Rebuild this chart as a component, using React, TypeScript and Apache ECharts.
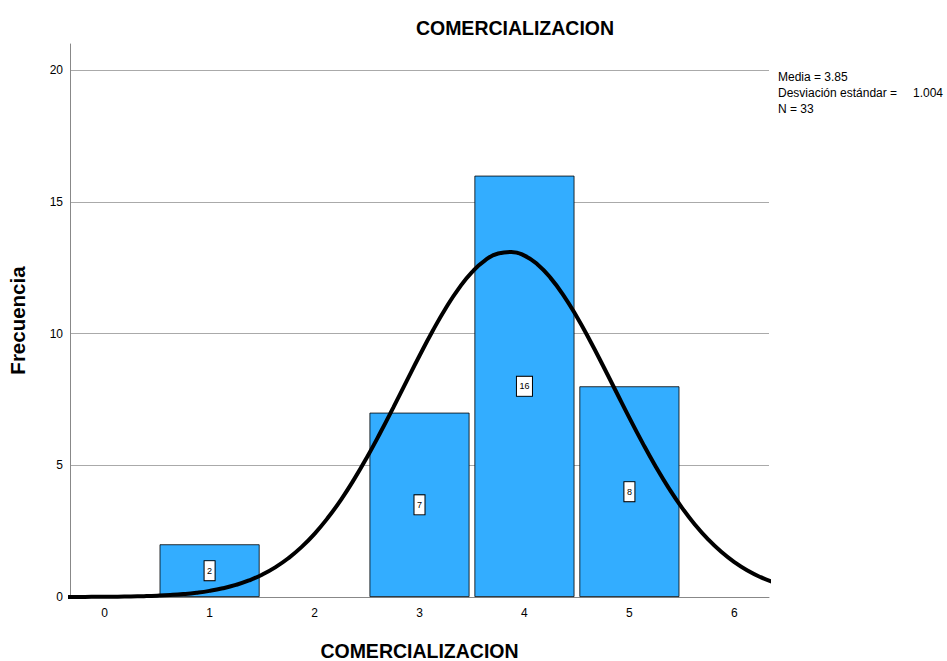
import React, { useEffect, useRef } from "react";
import * as echarts from "echarts";

const categories = [1, 3, 4, 5];
const frequencies = [2, 7, 16, 8];
const xTickLabels = [0, 1, 2, 3, 4, 5, 6];
const yTickLabels = [0, 5, 10, 15, 20];
const curveX = [
  -0.375, -0.25, -0.125, 0, 0.125, 0.25, 0.375, 0.5, 0.625, 0.75, 0.875, 1, 1.125, 1.25, 1.375, 1.5,
  1.625, 1.75, 1.875, 2, 2.125, 2.25, 2.375, 2.5, 2.625, 2.75, 2.875, 3, 3.125, 3.25, 3.375, 3.5,
  3.625, 3.75, 3.875, 4, 4.125, 4.25, 4.375, 4.5, 4.625, 4.75, 4.875, 5, 5.125, 5.25, 5.375, 5.5,
  5.625, 5.75, 5.875, 6, 6.125, 6.25, 6.375,
];
const curveY = [
  0.0019, 0.0031, 0.0052, 0.0084, 0.0134, 0.0212, 0.0328, 0.0501, 0.0754, 0.1115, 0.1626, 0.2333, 0.3297, 0.4586, 0.628, 0.847,
  1.125, 1.471, 1.893, 2.4, 2.997, 3.683, 4.456, 5.31, 6.229, 7.193, 8.182, 9.161, 10.101, 10.966, 11.722, 12.337,
  12.785, 13.045, 13.106, 12.965, 12.627, 12.11, 11.435, 10.631, 9.732, 8.772, 7.785, 6.803, 5.853, 4.959, 4.136, 3.397,
  2.747, 2.188, 1.715, 1.324, 1.006, 0.753, 0.555,
];
const statsLines = ["Media = 3.85", "Desviación estándar =", "N = 33"];
const sdValue = "1.004";

const FONT = "'Liberation Sans', Arial, sans-serif";

export default function App() {
  const ref = useRef<HTMLDivElement>(null);
  useEffect(() => {
    if (!ref.current) return;
    const chart = echarts.init(ref.current, null, { renderer: "svg" });
    chart.setOption({
      animation: false,
      backgroundColor: "#ffffff",
      textStyle: { fontFamily: FONT },
      title: {
        text: "COMERCIALIZACION",
        left: 510,
        textAlign: "center",
        top: 13,
        textStyle: { fontFamily: FONT, fontSize: 19.5, fontWeight: "bold", color: "#000" },
      },
      grid: { left: 70, right: 178, top: 44, bottom: 64, outerBoundsMode: "none", containLabel: false },
      xAxis: {
        type: "value",
        min: -0.33,
        max: 6.33,
        name: "COMERCIALIZACION",
        nameLocation: "middle",
        nameGap: 44,
        nameTextStyle: { fontFamily: FONT, fontSize: 19.5, fontWeight: "bold", color: "#000" },
        axisLine: { show: true, onZero: false, lineStyle: { color: "#888", width: 1 } },
        axisTick: { show: false },
        splitLine: { show: false },
        axisLabel: {
          customValues: xTickLabels,
          color: "#000",
          fontSize: 12,
          margin: 10,
          fontFamily: FONT,
        },
      },
      yAxis: {
        type: "value",
        min: 0,
        max: 21,
        interval: 5,
        name: "Frecuencia",
        nameLocation: "middle",
        nameGap: 42,
        nameRotate: 90,
        nameTextStyle: { fontFamily: FONT, fontSize: 20.5, fontWeight: "bold", color: "#000" },
        axisLine: { show: true, onZero: false, lineStyle: { color: "#888", width: 1 } },
        axisTick: { show: false },
        splitLine: { show: true, showMinLine: false, showMaxLine: false, lineStyle: { color: "#aaa", width: 1 } },
        axisLabel: {
          customValues: yTickLabels,
          color: "#000",
          fontSize: 12,
          margin: 7,
          fontFamily: FONT,
        },
      },
      series: [
        {
          type: "bar",
          data: categories.map((c, i) => [c, frequencies[i]]),
          barWidth: 100,
          itemStyle: { color: "#33adff", borderColor: "#000", borderWidth: 0.8 },
          label: {
            show: true,
            position: "inside",
            color: "#000",
            fontSize: 9,
            fontFamily: FONT,
            backgroundColor: "#fff",
            borderColor: "#000",
            borderWidth: 1,
            padding: [5, 2.5],
            formatter: (p: any) => String(p.value[1]),
          },
          z: 2,
        },
        {
          type: "line",
          data: curveX.map((x, i) => [x, curveY[i]]),
          smooth: true,
          symbol: "none",
          lineStyle: { color: "#000", width: 4 },
          z: 3,
        },
      ],
      graphic: [
        { type: "text", left: 778, top: 71, style: { text: statsLines[0], font: `12px ${FONT}`, fill: "#000" } },
        { type: "text", left: 778, top: 87, style: { text: statsLines[1], font: `12px ${FONT}`, fill: "#000" } },
        { type: "text", left: 913, top: 87, style: { text: sdValue, font: `12px ${FONT}`, fill: "#000" } },
        { type: "text", left: 778, top: 103, style: { text: statsLines[2], font: `12px ${FONT}`, fill: "#000" } },
      ],
    });
    return () => chart.dispose();
  }, []);
  return <div ref={ref} style={{ width: 947, height: 661, position: "absolute", left: 0, top: 0 }} />;
}
